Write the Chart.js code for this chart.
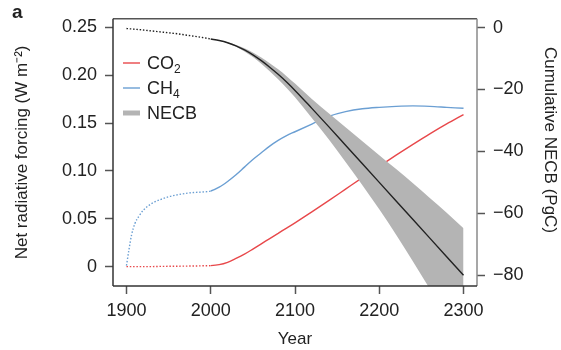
<!DOCTYPE html>
<html>
<head>
<meta charset="utf-8">
<script src="https://cdn.jsdelivr.net/npm/chart.js@4.4.1/dist/chart.umd.min.js"></script>
<style>
  html, body { margin: 0; padding: 0; background: #fff; }
  #wrap { width: 561px; height: 350px; }
</style>
</head>
<body>
<div id="wrap"><canvas id="forcing"></canvas></div>
<script>
// Model years (historical up to 2000, projection after)
const years = [1900, 1903, 1906, 1910, 1915, 1920, 1930, 1940, 1950, 1960, 1970, 1980, 1990, 2000,
  2010, 2020, 2030, 2040, 2050, 2060, 2070, 2080, 2090, 2100,
  2120, 2140, 2160, 2180, 2200, 2220, 2240, 2260, 2280, 2300];

// Net radiative forcing (W m-2)
const co2 = [0, 0, 0, 0, 0, 0, 0, 0.0002, 0.0003, 0.0004, 0.0005, 0.0006, 0.0008, 0.001,
  0.002, 0.0045, 0.0085, 0.013, 0.0183, 0.0238, 0.0293, 0.0348, 0.0403, 0.0458,
  0.0572, 0.0690, 0.0810, 0.0930, 0.1048, 0.1165, 0.1278, 0.1388, 0.1492, 0.159];
const ch4 = [0.001, 0.018, 0.033, 0.045, 0.053, 0.059, 0.066, 0.070, 0.073, 0.075, 0.0765, 0.0775, 0.078, 0.079,
  0.083, 0.089, 0.096, 0.104, 0.112, 0.119, 0.126, 0.132, 0.137, 0.141,
  0.149, 0.157, 0.162, 0.165, 0.1665, 0.1675, 0.168, 0.1675, 0.1665, 0.1655];

// Cumulative NECB (PgC): central estimate and uncertainty range
const necb = [-0.3, -0.4, -0.45, -0.55, -0.65, -0.8, -1.1, -1.4, -1.7, -2.0, -2.4, -2.8, -3.2, -3.7,
  -4.2, -4.9, -5.9, -7.2, -8.8, -10.7, -12.8, -15.1, -17.6, -20.3,
  -26.1, -32.0, -38.0, -44.0, -50.0, -56.0, -62.0, -68.0, -74.0, -80.0];
const necbUpper = [-0.3, -0.4, -0.45, -0.55, -0.65, -0.8, -1.1, -1.4, -1.7, -2.0, -2.4, -2.8, -3.2, -3.7,
  -4.15, -4.75, -5.6, -6.7, -8.05, -9.7, -11.5, -13.5, -15.7, -18.1,
  -23.1, -27.7, -32.2, -36.7, -41.2, -45.7, -50.3, -55.0, -59.8, -64.8];
const necbLower = [-0.3, -0.4, -0.45, -0.55, -0.65, -0.8, -1.1, -1.4, -1.7, -2.0, -2.4, -2.8, -3.2, -3.7,
  -4.25, -5.05, -6.2, -7.7, -9.55, -11.7, -14.1, -16.7, -19.5, -22.5,
  -29.2, -36.1, -43.4, -50.9, -58.7, -66.9, -75.5, -84.4, -93.4, -102.4];

// Axis ticks
const yearTicks = [1900, 2000, 2100, 2200, 2300];
const forcingTicks = [0, 0.05, 0.10, 0.15, 0.20, 0.25];
const forcingLabels = ['0', '0.05', '0.10', '0.15', '0.20', '0.25'];
const necbTicks = [0, -20, -40, -60, -80];
const necbLabels = ['0', '\u221220', '\u221240', '\u221260', '\u221280'];

const RED = '#e8484b';
const BLUE = '#6b9fd3';
const BAND = '#b4b4b4';
const LAST_OBS = 2000;

const FONT = "'Liberation Sans', Arial, Helvetica, sans-serif";
Chart.defaults.font.family = FONT;
Chart.defaults.font.size = 17;
Chart.defaults.color = '#222';

const pts = arr => years.map((x, i) => ({ x: x, y: arr[i] }));
// dotted before the end of the observed period
const histDash = { borderDash: c => c.p1.parsed.x <= LAST_OBS ? [1.5, 1.8] : undefined };

// box around the plot, right-hand title, the key and the panel letter
const framePlugin = {
  id: 'frame',
  afterDraw(chart) {
    const { ctx, chartArea: a } = chart;
    ctx.save();
    ctx.lineWidth = 1.5;
    const seg = (x1, y1, x2, y2, col) => {
      ctx.strokeStyle = col;
      ctx.beginPath(); ctx.moveTo(x1, y1); ctx.lineTo(x2, y2); ctx.stroke();
    };
    seg(a.left, a.top, a.right, a.top, '#555');
    seg(a.right, a.top, a.right, a.bottom, '#8a8a8a');
    seg(a.left, a.bottom, a.right, a.bottom, '#333');
    seg(a.left, a.top, a.left, a.bottom, '#333');

    ctx.fillStyle = '#222';
    ctx.textAlign = 'center';
    ctx.textBaseline = 'middle';
    ctx.font = '17px ' + FONT;
    ctx.save();
    ctx.translate(550, 140);
    ctx.rotate(Math.PI / 2);
    ctx.fillText('Cumulative NECB (PgC)', 0, 0);
    ctx.restore();

    // key
    const keys = [
      { main: 'CO', sub: '2', color: RED, width: 1.4 },
      { main: 'CH', sub: '4', color: BLUE, width: 1.4 },
      { main: 'NECB', sub: '', color: BAND, width: 5 }
    ];
    ctx.textAlign = 'left';
    keys.forEach((k, i) => {
      const y = 63 + i * 25;
      ctx.strokeStyle = k.color;
      ctx.lineWidth = k.width;
      ctx.beginPath(); ctx.moveTo(123, y); ctx.lineTo(140, y); ctx.stroke();
      ctx.font = '18px ' + FONT;
      ctx.fillText(k.main, 147, y + 1);
      if (k.sub) {
        const w = ctx.measureText(k.main).width;
        ctx.font = '12px ' + FONT;
        ctx.fillText(k.sub, 147 + w, y + 7);
      }
    });

    ctx.font = 'bold 19px ' + FONT;
    ctx.fillText('a', 12, 13);
    ctx.restore();
  }
};

const tickGrid = { display: true, drawOnChartArea: false, drawTicks: true, tickLength: 8, tickColor: '#555', tickWidth: 1.5 };
const tickFont = { size: 18 };

new Chart(document.getElementById('forcing'), {
  type: 'line',
  data: {
    datasets: [
      {
        label: 'NECB',
        data: pts(necb),
        yAxisID: 'y2',
        borderColor: '#222',
        borderWidth: 1.4,
        pointRadius: 0,
        cubicInterpolationMode: 'monotone',
        segment: histDash,
        order: 0
      },
      {
        label: 'NECB upper',
        data: pts(necbUpper),
        yAxisID: 'y2',
        borderWidth: 0,
        pointRadius: 0,
        backgroundColor: BAND,
        cubicInterpolationMode: 'monotone',
        fill: '+1',
        order: 1
      },
      {
        label: 'NECB lower',
        data: pts(necbLower),
        yAxisID: 'y2',
        borderWidth: 0,
        pointRadius: 0,
        cubicInterpolationMode: 'monotone',
        fill: false,
        order: 1
      },
      {
        label: 'CO2',
        data: pts(co2),
        yAxisID: 'y',
        borderColor: RED,
        borderWidth: 1.4,
        pointRadius: 0,
        cubicInterpolationMode: 'monotone',
        segment: histDash,
        order: 2
      },
      {
        label: 'CH4',
        data: pts(ch4),
        yAxisID: 'y',
        borderColor: BLUE,
        borderWidth: 1.4,
        pointRadius: 0,
        cubicInterpolationMode: 'monotone',
        segment: histDash,
        order: 2
      }
    ]
  },
  options: {
    responsive: true,
    maintainAspectRatio: false,
    animation: false,
    layout: { padding: { top: 11, left: 0, right: 0, bottom: 0 } },
    plugins: {
      legend: { display: false },
      tooltip: { enabled: false }
    },
    scales: {
      x: {
        type: 'linear',
        min: 1884,
        max: 2316,
        afterBuildTicks: s => { s.ticks = yearTicks.map(v => ({ value: v })); },
        afterFit: s => { s.height = 64; },
        ticks: { padding: 6, maxRotation: 0, font: tickFont, callback: v => String(v) },
        grid: tickGrid,
        border: { display: false },
        title: { display: true, text: 'Year', padding: { top: 0, bottom: 0 } }
      },
      y: {
        position: 'left',
        min: -0.0203,
        max: 0.2591,
        afterBuildTicks: s => { s.ticks = forcingTicks.map(v => ({ value: v })); },
        afterFit: s => { s.width = 113; },
        ticks: { padding: 8, font: tickFont, callback: v => forcingLabels[forcingTicks.indexOf(v)] },
        grid: tickGrid,
        border: { display: false },
        title: { display: true, text: 'Net radiative forcing (W m\u207B\u00B2)', padding: { top: 12, bottom: 0 } }
      },
      y2: {
        position: 'right',
        min: -83.45,
        max: 2.82,
        afterBuildTicks: s => { s.ticks = necbTicks.map(v => ({ value: v })); },
        afterFit: s => { s.width = 84; },
        ticks: { padding: 8, font: tickFont, callback: v => necbLabels[necbTicks.indexOf(v)] },
        grid: tickGrid,
        border: { display: false }
      }
    }
  },
  plugins: [framePlugin]
});
</script>
</body>
</html>
